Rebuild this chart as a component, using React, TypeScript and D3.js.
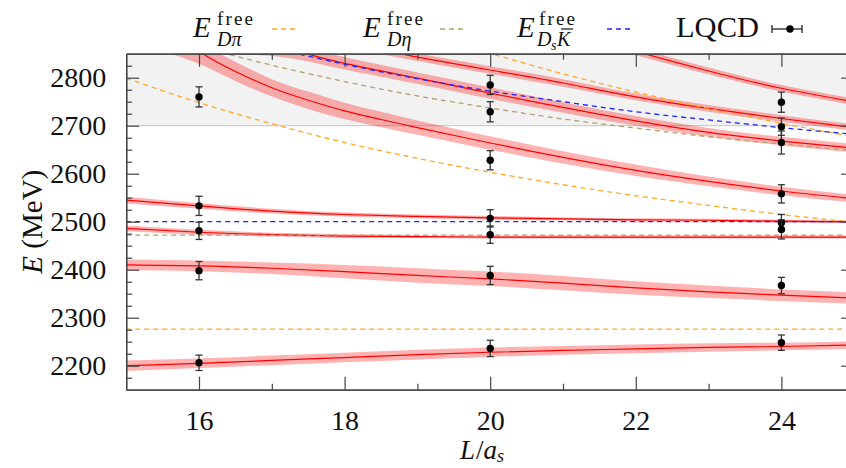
import React, { useEffect, useRef } from "react";
import * as d3 from "d3";

// AXIS TICKS
const xTicks = [16, 18, 20, 22, 24];
const xMinorTicks = [17, 19, 21, 23];
const yTicks = [2200, 2300, 2400, 2500, 2600, 2700, 2800];

// FREE (NON-INTERACTING) LEVELS
const lGrid = [15, 16, 17, 18, 19, 20, 21, 22, 23, 24, 25];
const freeDpi = [2799, 2748, 2704, 2665, 2632, 2603, 2577, 2554, 2534, 2515, 2499];
const freeDpi2L = [19, 20, 21, 22, 23, 24, 25];
const freeDpi2 = [2899, 2851, 2808, 2770, 2736, 2705, 2677];
const freeDeta = [2912, 2866, 2826, 2792, 2762, 2737, 2714, 2695, 2677, 2662, 2648];
const freeDsK = [2950, 2903, 2863, 2828, 2798, 2772, 2750, 2729, 2712, 2696, 2682];
const thrDpi = 2276;
const thrDeta = 2472;
const thrDsK = 2500;

// FITTED LEVELS (central value + half width of band)
const lvl1E = [2200, 2205, 2211, 2217, 2223, 2228, 2232, 2235, 2238, 2240, 2243];
const lvl1Err = [11, 10, 10, 10, 10, 10, 9, 9, 9, 8, 8];
const lvl2E = [2410, 2408, 2403, 2396, 2388, 2381, 2372, 2362, 2354, 2347, 2341];
const lvl2Err = [11, 11, 12, 14, 15, 15, 15, 14, 13, 12, 12];
const lvl3E = [2486, 2478, 2473, 2470, 2469, 2468, 2468, 2468, 2468, 2468, 2468];
const lvl3Err = [6, 5, 4, 4, 3, 3, 3, 3, 3, 3, 3];
const lvl4E = [2545, 2533, 2522, 2515, 2511, 2508, 2506, 2504, 2503, 2501, 2500];
const lvl4Err = [7, 6, 5, 4, 4, 4, 3, 3, 3, 3, 3];
const lvl5L = [15.5, 16, 16.5, 17, 17.5, 18, 18.5, 19, 20, 21, 22, 23, 24, 25];
const lvl5E = [2915, 2855, 2813, 2779, 2753, 2731, 2713, 2696, 2664, 2634, 2607, 2584, 2564, 2548];
const lvl5Err = [60, 26, 20, 18, 18, 17, 16, 15, 14, 13, 12, 10, 9, 8];
const lvl6L = [16.5, 17, 17.5, 18, 19, 20, 21, 22, 23, 24, 25];
const lvl6E = [2895, 2870, 2849, 2830, 2799, 2768, 2738, 2710, 2686, 2668, 2653];
const lvl6Err = [45, 25, 15, 13, 12, 12, 11, 10, 9, 9, 9];
const lvl7L = [18.5, 19, 20, 21, 22, 23, 24, 25];
const lvl7E = [2858, 2843, 2816, 2789, 2760, 2736, 2715, 2696];
const lvl7Err = [9, 8, 8, 8, 7, 7, 7, 7];
const lvl8L = [21.5, 22, 23, 24, 25];
const lvl8E = [2878, 2855, 2814, 2778, 2750];
const lvl8Err = [8, 8, 7, 7, 7];

// LQCD POINTS
const lqcdL = [16, 16, 16, 16, 16, 20, 20, 20, 20, 20, 20, 20, 24, 24, 24, 24, 24, 24, 24, 24];
const lqcdE = [2760, 2533, 2481, 2398, 2206, 2785, 2729, 2628, 2507, 2473, 2388, 2236, 2749, 2698, 2665, 2558, 2498, 2484, 2367, 2248];
const lqcdErr = [21, 20, 18, 19, 16, 20, 21, 20, 18, 18, 19, 17, 21, 18, 24, 19, 17, 20, 17, 16];

const FONT = "'Liberation Serif', 'Times New Roman', serif";
const AXIS = "#444";
const ORANGE = "#ffa726";
const TAN = "#b3a06c";
const BLUE = "#2222ff";
const RED = "#ff0000";

export default function App() {
  const ref = useRef<SVGSVGElement | null>(null);

  useEffect(() => {
    document.body.style.margin = "0";
    const svg = d3.select(ref.current);
    svg.selectAll("*").remove();

    // SCALES
    const x = d3.scaleLinear().domain([15, 25]).range([126.2, 854.2]);
    const y = d3.scaleLinear().domain([2150, 2850]).range([389.7, 53.7]);

    svg
      .append("defs")
      .append("clipPath")
      .attr("id", "plot-clip")
      .append("rect")
      .attr("x", x(15))
      .attr("y", y(2850))
      .attr("width", x(25) - x(15))
      .attr("height", y(2150) - y(2850));

    const plot = svg.append("g").attr("clip-path", "url(#plot-clip)");

    // GRAY REGION ABOVE 2700
    plot
      .append("rect")
      .attr("x", x(15))
      .attr("y", y(2850))
      .attr("width", x(25) - x(15))
      .attr("height", y(2700) - y(2850))
      .attr("fill", "#f2f2f2");
    plot
      .append("line")
      .attr("x1", x(15))
      .attr("x2", x(25))
      .attr("y1", y(2700))
      .attr("y2", y(2700))
      .attr("stroke", "#c4c4c4")
      .attr("stroke-width", 1);

    // FIT LEVELS: BANDS THEN LINES
    const levels: [number[], number[], number[]][] = [
      [lGrid, lvl1E, lvl1Err],
      [lGrid, lvl2E, lvl2Err],
      [lGrid, lvl3E, lvl3Err],
      [lGrid, lvl4E, lvl4Err],
      [lvl5L, lvl5E, lvl5Err],
      [lvl6L, lvl6E, lvl6Err],
      [lvl7L, lvl7E, lvl7Err],
      [lvl8L, lvl8E, lvl8Err],
    ];
    const line = d3
      .line<[number, number]>()
      .curve(d3.curveNatural)
      .x((d) => x(d[0]))
      .y((d) => y(d[1]));

    levels.forEach(([ls, es, errs]) => {
      plot
        .append("path")
        .datum(ls.map((_, i) => i))
        .attr("fill", RED)
        .attr("fill-opacity", 0.3)
        .attr(
          "d",
          d3
            .area<number>()
            .curve(d3.curveNatural)
            .x((i) => x(ls[i]))
            .y0((i) => y(es[i] - errs[i]))
            .y1((i) => y(es[i] + errs[i]))
        );
    });
    levels.forEach(([ls, es]) => {
      plot
        .append("path")
        .datum(ls.map((l, i) => [l, es[i]] as [number, number]))
        .attr("fill", "none")
        .attr("stroke", RED)
        .attr("stroke-width", 1.2)
        .attr("d", line);
    });

    // FREE LEVELS (DASHED)
    const dashed: [number[], number[], string][] = [
      [[15, 25], [thrDpi, thrDpi], ORANGE],
      [lGrid, freeDpi, ORANGE],
      [freeDpi2L, freeDpi2, ORANGE],
      [[15, 25], [thrDeta, thrDeta], TAN],
      [lGrid, freeDeta, TAN],
      [[15, 25], [thrDsK, thrDsK], BLUE],
      [lGrid, freeDsK, BLUE],
    ];
    dashed.forEach(([ls, es, color]) => {
      plot
        .append("path")
        .datum(ls.map((l, i) => [l, es[i]] as [number, number]))
        .attr("fill", "none")
        .attr("stroke", color)
        .attr("stroke-width", 1.3)
        .attr("stroke-dasharray", "5,4")
        .attr("d", line);
    });

    // LQCD POINTS WITH ERROR BARS
    const pts = svg.append("g");
    lqcdL.forEach((l, i) => {
      const cx = x(l);
      const top = y(lqcdE[i] + lqcdErr[i]);
      const bot = y(lqcdE[i] - lqcdErr[i]);
      const g = pts.append("g").attr("stroke", "#333").attr("stroke-width", 1.3);
      g.append("line").attr("x1", cx).attr("x2", cx).attr("y1", top).attr("y2", bot);
      g.append("line").attr("x1", cx - 3.5).attr("x2", cx + 3.5).attr("y1", top).attr("y2", top);
      g.append("line").attr("x1", cx - 3.5).attr("x2", cx + 3.5).attr("y1", bot).attr("y2", bot);
      pts.append("circle").attr("cx", cx).attr("cy", y(lqcdE[i])).attr("r", 3.7).attr("fill", "#000");
    });

    // AXES (INWARD TICKS ON ALL SIDES)
    const styleAxis = (g: d3.Selection<SVGGElement, unknown, null, undefined>) => {
      g.select(".domain").attr("stroke", AXIS).attr("stroke-width", 1.3);
      g.selectAll(".tick line").attr("stroke", AXIS).attr("stroke-width", 1.2);
      g.selectAll("text")
        .style("font-family", FONT)
        .style("font-size", "28px")
        .attr("fill", "#111");
    };
    const yMinor = d3.range(2175, 2850, 25).filter((v) => v % 100 !== 0);
    const noLabel = () => "";

    svg
      .append("g")
      .attr("transform", `translate(0,${y(2150)})`)
      .call(d3.axisBottom(x).tickValues(xTicks).tickSize(-13).tickSizeOuter(0).tickPadding(20).tickFormat(d3.format("d")))
      .call(styleAxis);
    svg
      .append("g")
      .attr("transform", `translate(0,${y(2150)})`)
      .call(d3.axisBottom(x).tickValues(xMinorTicks).tickSize(-6).tickSizeOuter(0).tickFormat(noLabel))
      .call(styleAxis);
    svg
      .append("g")
      .attr("transform", `translate(0,${y(2850)})`)
      .call(d3.axisTop(x).tickValues(xTicks).tickSize(-13).tickSizeOuter(0).tickFormat(noLabel))
      .call(styleAxis);
    svg
      .append("g")
      .attr("transform", `translate(0,${y(2850)})`)
      .call(d3.axisTop(x).tickValues(xMinorTicks).tickSize(-6).tickSizeOuter(0).tickFormat(noLabel))
      .call(styleAxis);
    svg
      .append("g")
      .attr("transform", `translate(${x(15)},0)`)
      .call(d3.axisLeft(y).tickValues(yTicks).tickSize(-13).tickSizeOuter(0).tickPadding(20).tickFormat(d3.format("d")))
      .call(styleAxis);
    svg
      .append("g")
      .attr("transform", `translate(${x(15)},0)`)
      .call(d3.axisLeft(y).tickValues(yMinor).tickSize(-6).tickSizeOuter(0).tickFormat(noLabel))
      .call(styleAxis);
    svg
      .append("g")
      .attr("transform", `translate(${x(25)},0)`)
      .call(d3.axisRight(y).tickValues(yTicks).tickSize(-13).tickSizeOuter(0).tickFormat(noLabel))
      .call(styleAxis);
    svg
      .append("g")
      .attr("transform", `translate(${x(25)},0)`)
      .call(d3.axisRight(y).tickValues(yMinor).tickSize(-6).tickSizeOuter(0).tickFormat(noLabel))
      .call(styleAxis);

    // AXIS TITLES
    const yTitle = svg
      .append("text")
      .attr("transform", `translate(42,${(y(2150) + y(2850)) / 2}) rotate(-90)`)
      .attr("text-anchor", "middle")
      .style("font-family", FONT)
      .style("font-size", "29px")
      .attr("fill", "#111");
    yTitle.append("tspan").attr("font-style", "italic").text("E");
    yTitle.append("tspan").text(" (MeV)");

    const xTitle = svg
      .append("text")
      .attr("x", 460)
      .attr("y", 459)
      .style("font-family", FONT)
      .style("font-size", "27px")
      .attr("fill", "#111");
    xTitle.append("tspan").attr("font-style", "italic").text("L");
    xTitle.append("tspan").attr("dx", 1).text("/");
    xTitle.append("tspan").attr("font-style", "italic").text("a");
    xTitle.append("tspan").attr("font-style", "italic").style("font-size", "18px").attr("dy", 3).text("s");

    // LEGEND
    const legend = svg.append("g").style("font-family", FONT).attr("fill", "#111");
    const addText = (tx: number, ty: number, size: number, italic: boolean, s: string) =>
      legend
        .append("text")
        .attr("x", tx)
        .attr("y", ty)
        .style("font-size", `${size}px`)
        .attr("font-style", italic ? "italic" : "normal")
        .text(s);

    // E^free_{Dπ}
    addText(193, 37, 29, true, "E");
    addText(217, 25, 19, false, "free").attr("textLength", 36).attr("lengthAdjust", "spacing");
    addText(217, 46, 20, true, "Dπ");
    // E^free_{Dη}
    addText(363, 37, 29, true, "E");
    addText(387, 25, 19, false, "free").attr("textLength", 36).attr("lengthAdjust", "spacing");
    addText(387, 46, 20, true, "Dη");
    // E^free_{Ds K̄}
    addText(517, 37, 29, true, "E");
    addText(539, 25, 19, false, "free").attr("textLength", 36).attr("lengthAdjust", "spacing");
    addText(537, 46, 20, true, "D");
    addText(551, 50, 14, true, "s");
    addText(557, 46, 20, true, "K");
    legend
      .append("line")
      .attr("x1", 561)
      .attr("x2", 573)
      .attr("y1", 29)
      .attr("y2", 29)
      .attr("stroke", "#111")
      .attr("stroke-width", 1.2);

    const legendDash: [number, string][] = [
      [272, ORANGE],
      [440, TAN],
      [607, BLUE],
    ];
    legendDash.forEach(([lx, color]) => {
      legend
        .append("line")
        .attr("x1", lx)
        .attr("x2", lx + 26)
        .attr("y1", 29)
        .attr("y2", 29)
        .attr("stroke", color)
        .attr("stroke-width", 1.3)
        .attr("stroke-dasharray", "5,4");
    });

    addText(676, 37, 29, false, "LQCD").attr("textLength", 83).attr("lengthAdjust", "spacingAndGlyphs");
    const mk = legend.append("g").attr("stroke", "#222").attr("stroke-width", 1.3);
    mk.append("line").attr("x1", 772).attr("x2", 802).attr("y1", 29).attr("y2", 29);
    mk.append("line").attr("x1", 772).attr("x2", 772).attr("y1", 25).attr("y2", 33);
    mk.append("line").attr("x1", 802).attr("x2", 802).attr("y1", 25).attr("y2", 33);
    legend.append("circle").attr("cx", 790).attr("cy", 29).attr("r", 3.7).attr("fill", "#000");
  }, []);

  return <svg ref={ref} width={846} height={468} style={{ display: "block", background: "#fff" }} />;
}
